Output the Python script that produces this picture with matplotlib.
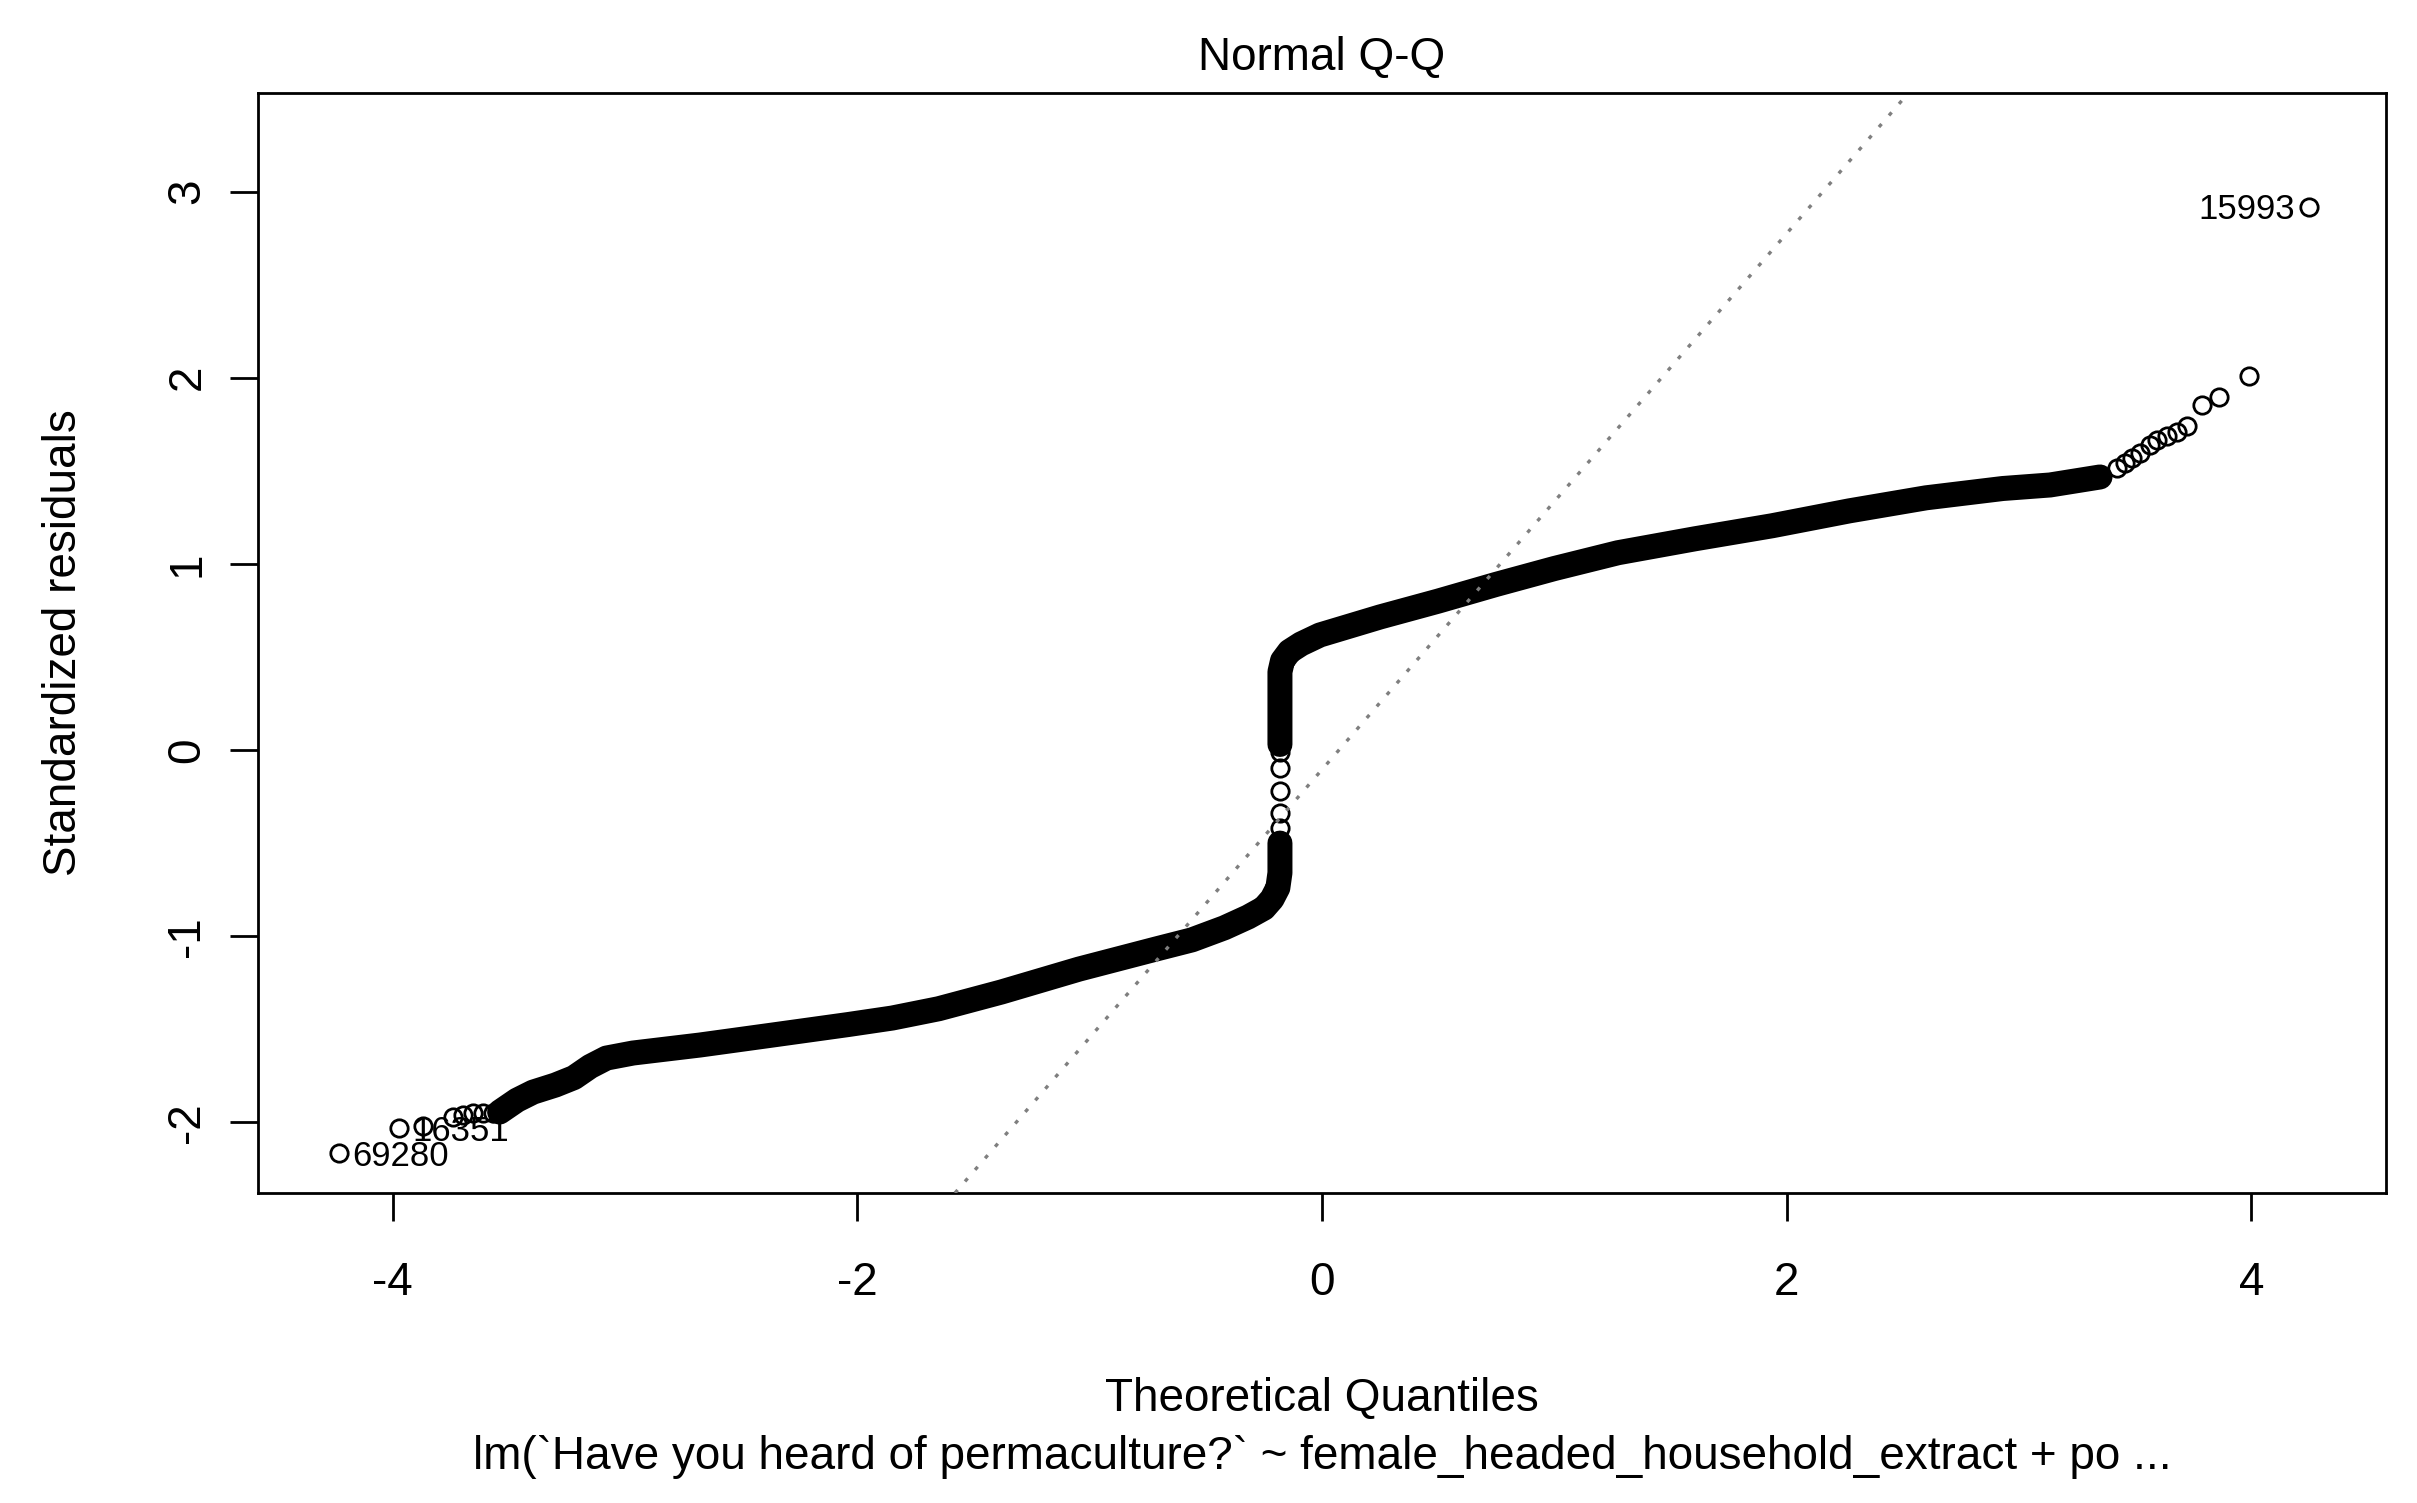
import numpy as np
import matplotlib.pyplot as plt

plt.rcParams['font.family'] = ['Liberation Sans', 'DejaVu Sans']
plt.rcParams['axes.unicode_minus'] = False

# dense part of the Q-Q cloud (theoretical quantile, standardized residual)
lower_q = [-3.54, -3.465, -3.396, -3.30, -3.22, -3.15, -3.08, -2.966, -2.678, -2.375, -2.04,
           -1.85, -1.65, -1.38, -1.046, -0.714, -0.56, -0.42, -0.318, -0.25, -0.215, -0.19, -0.181, -0.181]
lower_r = [-1.945, -1.881, -1.838, -1.80, -1.76, -1.70, -1.655, -1.628, -1.585, -1.533, -1.475,
           -1.44, -1.39, -1.30, -1.177, -1.069, -1.02, -0.955, -0.897, -0.85, -0.80, -0.74, -0.66, -0.50]
upper_q = [-0.181, -0.181, -0.17, -0.14, -0.09, -0.009, 0.25, 0.50, 0.75, 1.0, 1.274, 1.606,
           1.938, 2.27, 2.60, 2.93, 3.134, 3.349]
upper_r = [0.03, 0.42, 0.48, 0.53, 0.57, 0.618, 0.715, 0.80, 0.89, 0.975, 1.06, 1.135,
           1.205, 1.285, 1.355, 1.405, 1.424, 1.467]

# points that still show as single open circles
gap_q = [-0.181, -0.181, -0.181, -0.181, -0.181]
gap_r = [-0.01, -0.097, -0.22, -0.34, -0.42]
left_q = [-4.232, -3.975, -3.87, -3.74, -3.698, -3.655, -3.612, -3.569]
left_r = [-2.166, -2.031, -2.02, -1.97, -1.961, -1.951, -1.951, -1.951]
right_q = [3.422, 3.457, 3.487, 3.521, 3.564, 3.594, 3.637, 3.680, 3.723, 3.788, 3.861, 3.990, 4.249]
right_r = [1.515, 1.542, 1.569, 1.596, 1.639, 1.666, 1.687, 1.709, 1.741, 1.854, 1.897, 2.010, 2.918]

# labelled extremes
id_labels = ['69280', '16351', '15993']
id_q = [-4.232, -3.975, 4.249]
id_r = [-2.166, -2.031, 2.918]

# reference line (qqline)
line_intercept = -0.105
line_slope = 1.44

x_ticks = [-4, -2, 0, 2, 4]
y_ticks = [-2, -1, 0, 1, 2, 3]

W, H = 2417, 1503
fig = plt.figure(figsize=(W / 100, H / 100), dpi=100)
ax = fig.add_axes([258 / W, 1 - 1193 / H, (2386 - 258) / W, (1193 - 93) / H])

# the dense cloud is a solid band of overlapping circles
band = dict(color='black', lw=18, solid_capstyle='round', solid_joinstyle='round', zorder=2)
ax.plot(lower_q, lower_r, **band)
ax.plot(upper_q, upper_r, **band)

circ = dict(linestyle='none', marker='o', mfc='none', mec='black', ms=12.5, mew=2, zorder=3)
ax.plot(gap_q, gap_r, **circ)
ax.plot(left_q, left_r, **circ)
ax.plot(right_q, right_r, **circ)

ax.axline((0, line_intercept), slope=line_slope, color='#7f7f7f', lw=2.4,
          linestyle=(0, (1.2, 3.4)), zorder=4)

for lab, q, r in zip(id_labels, id_q, id_r):
    if q < 0:
        ax.annotate(lab, (q, r), xytext=(10, -9), textcoords='offset points',
                    ha='left', va='baseline', fontsize=25)
    else:
        ax.annotate(lab, (q, r), xytext=(-10, -9), textcoords='offset points',
                    ha='right', va='baseline', fontsize=25)

ax.set_xlim(-4.58, 4.58)
ax.set_ylim(-2.38, 3.53)
ax.set_xticks(x_ticks)
ax.set_yticks(y_ticks)
ax.set_xticklabels([str(t) for t in x_ticks])
ax.set_yticklabels([str(t) for t in y_ticks])
ax.tick_params(length=20, width=2, labelsize=33, direction='out')
ax.tick_params(axis='x', pad=29)
ax.tick_params(axis='y', pad=15, labelrotation=90)
for lab in ax.get_yticklabels():
    lab.set_va('center')
for s in ax.spines.values():
    s.set_linewidth(2)

fig.text(1322 / W, 1 - 70 / H, 'Normal Q-Q', ha='center', va='baseline', fontsize=33)
fig.text(1322 / W, 1 - 1411 / H, 'Theoretical Quantiles', ha='center', va='baseline', fontsize=33)
fig.text(1322 / W, 1 - 1469 / H,
         "lm(`Have you heard of permaculture?` ~ female_headed_household_extract + po ...",
         ha='center', va='baseline', fontsize=33)
fig.text(64 / W, 1 - 643 / H, 'Standardized residuals', rotation=90,
         ha='center', va='center', fontsize=33)

fig.savefig('out.png', dpi=100)
